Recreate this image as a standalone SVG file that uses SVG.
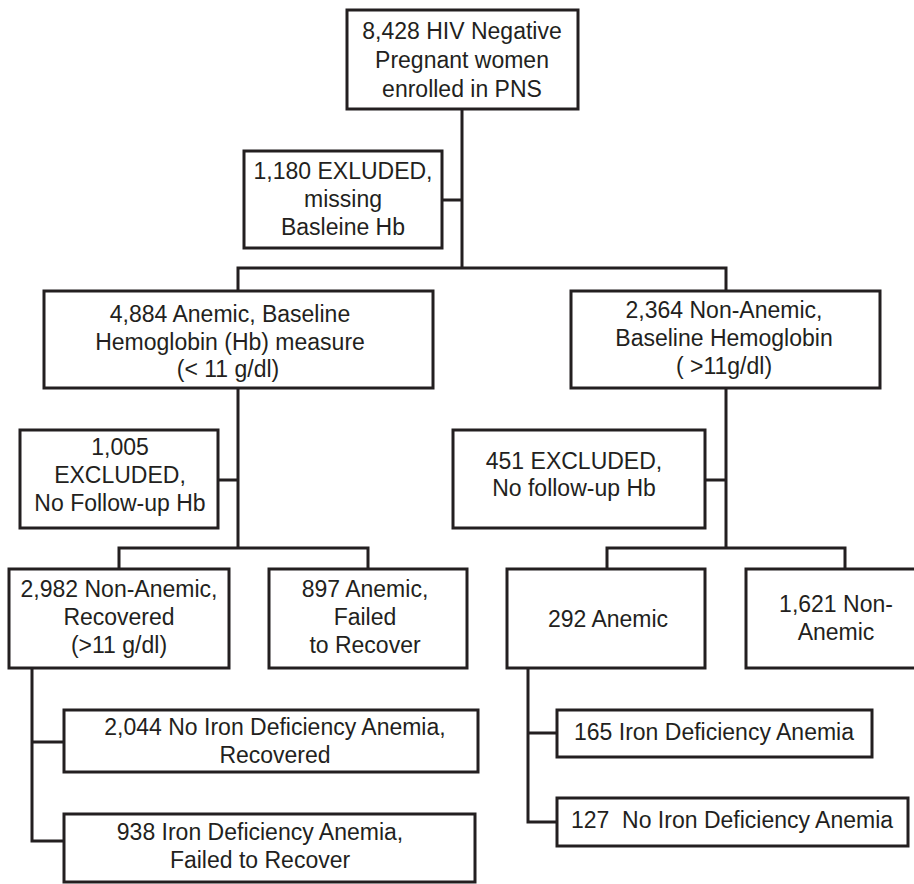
<svg xmlns="http://www.w3.org/2000/svg" width="914" height="884" viewBox="0 0 914 884">
<style>
.box{fill:#fff;stroke:#231f20;stroke-width:3}
.ln{fill:none;stroke:#231f20;stroke-width:3;stroke-linecap:square}
text{font-family:"Liberation Sans",Arial,Helvetica,sans-serif;font-size:23px;fill:#231f20;text-anchor:middle}
</style>
<rect width="914" height="884" fill="#fff"/>
<g id="connectors">
<path class="ln" d="M462,109 V268 M442,200 H462 M238,268 H726 M238,268 V291 M726,268 V291"/>
<path class="ln" d="M238,388 V548 M218,480 H238 M119,548 H368 M119,548 V569 M368,548 V569"/>
<path class="ln" d="M726,388 V548 M705,480 H726 M607,548 H845 M607,548 V569 M845,548 V569"/>
<path class="ln" d="M32,668 V841 M32,742 H64 M32,841 H64"/>
<path class="ln" d="M528,668 V822 M528,733 H557 M528,822 H557"/>
</g>
<g id="n-top"><rect class="box" x="347" y="10" width="231" height="99"/>
<text x="462" y="39">8,428 HIV Negative</text><text x="462" y="68">Pregnant women</text><text x="462" y="97">enrolled in PNS</text></g>
<g id="n-ex1"><rect class="box" x="244" y="151" width="198" height="97"/>
<text x="343" y="179">1,180 EXLUDED,</text><text x="343" y="207">missing</text><text x="343" y="235">Basleine Hb</text></g>
<g id="n-anemic"><rect class="box" x="44" y="291" width="389" height="97"/>
<text x="230" y="322">4,884 Anemic, Baseline</text><text x="230" y="350">Hemoglobin (Hb) measure</text><text x="228" y="377">(&lt; 11 g/dl)</text></g>
<g id="n-nonanemic"><rect class="box" x="571" y="291" width="309" height="97"/>
<text x="724" y="318">2,364 Non-Anemic,</text><text x="724" y="346">Baseline Hemoglobin</text><text x="724" y="374">( &gt;11g/dl)</text></g>
<g id="n-ex2"><rect class="box" x="20" y="430" width="198" height="98"/>
<text x="120" y="455">1,005</text><text x="120" y="483">EXCLUDED,</text><text x="120" y="511">No Follow-up Hb</text></g>
<g id="n-ex3"><rect class="box" x="453" y="430" width="252" height="98"/>
<text x="574" y="469">451 EXCLUDED,</text><text x="574" y="496">No follow-up Hb</text></g>
<g id="n-recovered"><rect class="box" x="9" y="569" width="220" height="99"/>
<text x="119" y="597">2,982 Non-Anemic,</text><text x="119" y="625">Recovered</text><text x="119" y="653">(&gt;11 g/dl)</text></g>
<g id="n-failed"><rect class="box" x="269" y="569" width="198" height="99"/>
<text x="365" y="597">897 Anemic,</text><text x="365" y="625">Failed</text><text x="365" y="653">to Recover</text></g>
<g id="n-292"><rect class="box" x="507" y="569" width="198" height="99"/>
<text x="608" y="627">292 Anemic</text></g>
<g id="n-1621"><rect class="box" x="746" y="569" width="180" height="99"/>
<text x="836" y="612">1,621 Non-</text><text x="836" y="640">Anemic</text></g>
<g id="n-2044"><rect class="box" x="64" y="710" width="414" height="62"/>
<text x="275" y="735">2,044 No Iron Deficiency Anemia,</text><text x="275" y="763">Recovered</text></g>
<g id="n-938"><rect class="box" x="64" y="814" width="411" height="68"/>
<text x="260" y="840">938 Iron Deficiency Anemia,</text><text x="260" y="868">Failed to Recover</text></g>
<g id="n-165"><rect class="box" x="557" y="710" width="315" height="47"/>
<text x="714" y="740">165 Iron Deficiency Anemia</text></g>
<g id="n-127"><rect class="box" x="557" y="798" width="351" height="48"/>
<text x="732" y="828" xml:space="preserve">127  No Iron Deficiency Anemia</text></g>
</svg>
